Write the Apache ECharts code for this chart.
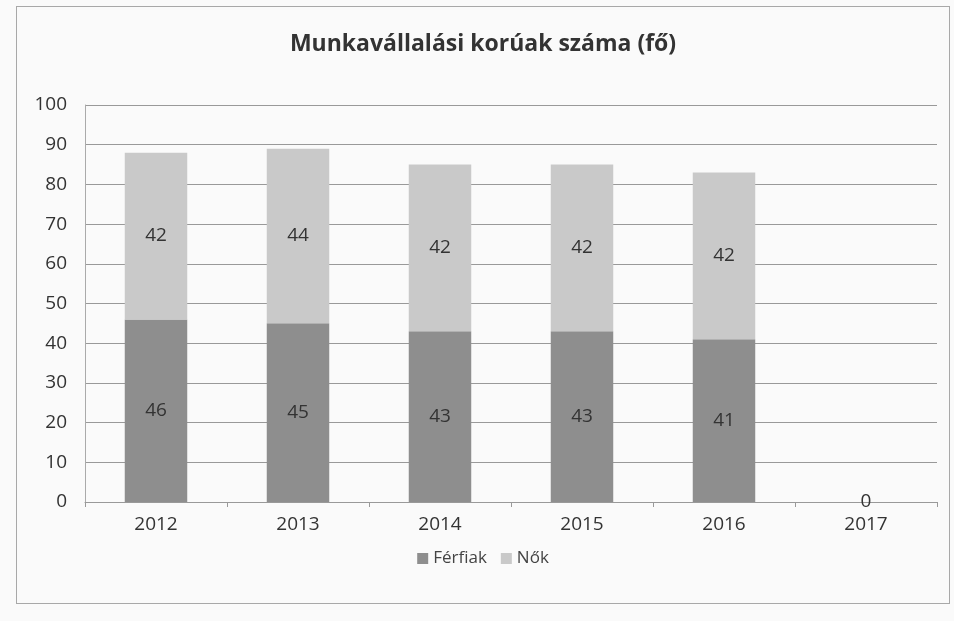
<!DOCTYPE html>
<html>
<head>
    <meta charset="utf-8">
    <title>Munkavállalási korúak száma</title>
    <script src="https://cdn.jsdelivr.net/npm/echarts@6.0.0/dist/echarts.min.js"></script>
    <style>
        html, body { margin: 0; padding: 0; background: #fafafa; }
        #chart {
            width: 934px;
            height: 598px;
            margin: 6px 0 0 16px;
            border: 1px solid #a8a8a8;
            box-sizing: border-box;
        }
    </style>
</head>
<body>
    <div id="chart"></div>
    <script>
        // adatok
        const years = ['2012', '2013', '2014', '2015', '2016', '2017'];
        const ferfiak = [46, 45, 43, 43, 41, 0];
        const nok = [42, 44, 42, 42, 42, 0];
        const yTicks = [0, 10, 20, 30, 40, 50, 60, 70, 80, 90, 100];

        const chart = echarts.init(document.getElementById('chart'));
        const font = '"Open Sans", "Noto Sans", sans-serif';

        const option = {
            backgroundColor: '#fafafa',
            title: {
                text: 'Munkavállalási korúak száma (fő)',
                left: 'center',
                top: 21,
                textStyle: { fontFamily: font, fontSize: 23, fontWeight: 'bold', color: '#333' }
            },
            legend: {
                top: 538,
                left: 'center',
                itemWidth: 11,
                itemHeight: 11,
                itemGap: 14,
                icon: 'rect',
                textStyle: { fontFamily: font, fontSize: 17, color: '#444' },
                data: ['Férfiak', 'Nők']
            },
            grid: { left: 68, right: 12, top: 98, bottom: 101 },
            xAxis: {
                type: 'category',
                data: years,
                axisLine: { lineStyle: { color: '#999' } },
                axisTick: { show: true, lineStyle: { color: '#999' } },
                axisLabel: { fontFamily: font, fontSize: 19, color: '#333', margin: 13 }
            },
            yAxis: {
                type: 'value',
                min: yTicks[0],
                max: yTicks[yTicks.length - 1],
                interval: 10,
                axisLine: { show: true, lineStyle: { color: '#aaa' } },
                axisTick: { show: false },
                axisLabel: { fontFamily: font, fontSize: 19, color: '#333', margin: 18 },
                splitLine: { lineStyle: { color: '#999', width: 1 } }
            },
            series: [
                {
                    name: 'Férfiak',
                    type: 'bar',
                    stack: 'total',
                    barWidth: '44%',
                    data: ferfiak,
                    itemStyle: { color: '#8e8e8e' },
                    label: {
                        show: true,
                        position: 'inside',
                        fontFamily: font,
                        fontSize: 19,
                        color: '#333',
                        formatter: p => p.value === 0 ? '0' : p.value
                    }
                },
                {
                    name: 'Nők',
                    type: 'bar',
                    stack: 'total',
                    barWidth: '44%',
                    data: nok,
                    itemStyle: { color: '#c9c9c9' },
                    label: {
                        show: true,
                        position: 'inside',
                        fontFamily: font,
                        fontSize: 19,
                        color: '#333',
                        formatter: p => p.value === 0 ? '' : p.value
                    }
                }
            ]
        };

        chart.setOption(option);
    </script>
</body>
</html>
